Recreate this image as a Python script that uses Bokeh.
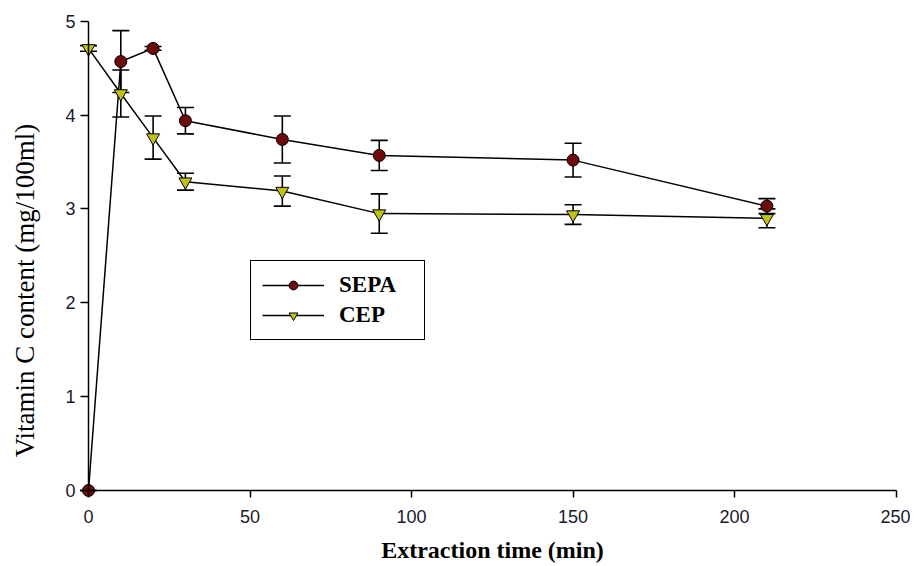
import math
from bokeh.plotting import figure
from bokeh.models import (ColumnDataSource, Range1d, FixedTicker, Whisker, TeeHead,
                          Legend, LegendItem, Label)
from bokeh.embed import file_html
from bokeh.resources import INLINE

# ---- data ----
time = [0, 10, 20, 30, 60, 90, 150, 210]
sepa = [0.0, 4.57, 4.71, 3.94, 3.74, 3.57, 3.52, 3.03]
sepa_err = [0.0, 0.33, 0.02, 0.14, 0.25, 0.16, 0.18, 0.08]
cep = [4.71, 4.23, 3.76, 3.29, 3.19, 2.95, 2.94, 2.90]
cep_err = [0.03, 0.25, 0.23, 0.09, 0.16, 0.21, 0.105, 0.10]
x_ticks = [0, 50, 100, 150, 200, 250]
y_ticks = [0, 1, 2, 3, 4, 5]
x_title = "Extraction time (min)"
y_title = "Vitamin C content (mg/100ml)"

SEPA_COLOR = "#6e0a0a"
CEP_COLOR = "#c2c214"

src_sepa = ColumnDataSource(dict(
    x=time, y=sepa,
    upper=[v + e for v, e in zip(sepa, sepa_err)],
    lower=[v - e for v, e in zip(sepa, sepa_err)]))
src_cep = ColumnDataSource(dict(
    x=time, y=cep,
    upper=[v + e for v, e in zip(cep, cep_err)],
    lower=[v - e for v, e in zip(cep, cep_err)]))

W, H = 910, 565
# The frame covers the whole canvas; axes sit at data zero (fixed_location),
# so nothing (markers at the origin, labels) is clipped.
p = figure(width=W, height=H, output_backend="svg", toolbar_location=None,
           x_range=Range1d(-27.24, 254.45), y_range=Range1d(-0.799, 5.2205),
           min_border=0,
           background_fill_color="white", border_fill_color="white")
p.outline_line_color = None
p.grid.visible = False

for ax in (p.xaxis[0], p.yaxis[0]):
    ax.axis_line_color = "black"
    ax.axis_line_width = 1.5
    ax.major_tick_line_color = "black"
    ax.major_tick_line_width = 1.5
    ax.major_tick_in = 0
    ax.minor_tick_line_color = None
    ax.major_label_text_font = "Liberation Sans"
    ax.major_label_text_font_size = "18px"
    ax.major_label_text_color = "#1a1a2e"
    ax.axis_label_text_font = "Liberation Serif"
    ax.axis_label_text_color = "black"

p.xaxis.fixed_location = 0
p.yaxis.fixed_location = 0
p.xaxis.bounds = (0, 250)
p.yaxis.bounds = (0, 5)
p.xaxis.ticker = FixedTicker(ticks=x_ticks)
p.yaxis.ticker = FixedTicker(ticks=y_ticks)
p.xaxis.major_tick_out = 7
p.yaxis.major_tick_out = 8
p.xaxis.major_label_standoff = 12
p.yaxis.major_label_standoff = 5

p.xaxis.axis_label = x_title
p.xaxis.axis_label_text_font_size = "24px"
p.xaxis.axis_label_text_font_style = "bold"
p.xaxis.axis_label_standoff = 11

# y title placed freely (the reference has it off-centre from the axis)
p.add_layout(Label(x=24, y=H - 290, x_units="screen", y_units="screen",
                   text=y_title, angle=math.pi / 2, text_align="center",
                   text_baseline="middle", text_font="Liberation Serif",
                   text_font_size="27px", text_color="black"))

for src in (src_sepa, src_cep):
    w = Whisker(base="x", upper="upper", lower="lower", source=src, dimension="height",
                line_color="black", line_width=1.6,
                upper_head=TeeHead(size=17, line_color="black", line_width=1.6),
                lower_head=TeeHead(size=17, line_color="black", line_width=1.6))
    w.level = "underlay"
    p.add_layout(w)

l1 = p.line("x", "y", source=src_sepa, line_color="black", line_width=1.5)
s1 = p.scatter("x", "y", source=src_sepa, marker="circle", size=12,
               fill_color=SEPA_COLOR, line_color="black", line_width=1)
l2 = p.line("x", "y", source=src_cep, line_color="black", line_width=1.5)
s2 = p.scatter("x", "y", source=src_cep, marker="inverted_triangle", size=13,
               fill_color=CEP_COLOR, line_color="black", line_width=1)

legend = Legend(items=[LegendItem(label="SEPA", renderers=[l1, s1]),
                       LegendItem(label="CEP", renderers=[l2, s2])],
                location=(250, H - 340), orientation="vertical",
                border_line_color="black", border_line_width=1.5, border_line_alpha=1,
                background_fill_color="white", background_fill_alpha=1,
                label_text_font="Liberation Serif", label_text_font_size="23px",
                label_text_font_style="bold", label_text_color="black",
                glyph_width=62, glyph_height=22, label_standoff=15, label_width=74,
                spacing=4, padding=11, margin=0)
p.add_layout(legend, "center")

open("out.html", "w").write(file_html(p, INLINE))
